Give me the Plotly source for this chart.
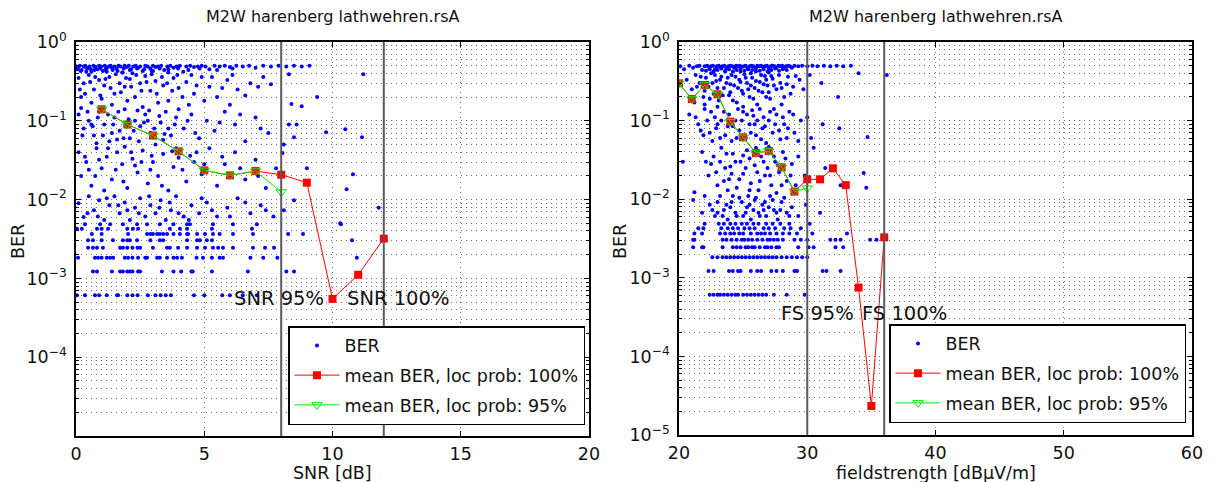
import plotly.graph_objects as go

# ---------------- data: SNR plot ----------------
snr_mean100_x = [1, 2, 3, 4, 5, 6, 7, 8, 9, 10, 11, 12]
snr_mean100 = [0.14, 0.0897, 0.065, 0.041, 0.0235, 0.0203, 0.023, 0.0207, 0.0164, 0.00055, 0.00111, 0.0032]
snr_mean95_x = [1, 2, 3, 4, 5, 6, 7, 8]
snr_mean95 = [0.14, 0.0897, 0.065, 0.041, 0.0235, 0.0203, 0.023, 0.0125]
snr_line95 = 8
snr_line100 = 12

snr_band = [(0.02,0.49),(0.08,0.47),(0.15,0.5),(0.22,0.44),(0.3,0.49),(0.36,0.5),(0.45,0.46),(0.52,0.49),
            (0.6,0.42),(0.68,0.5),(0.75,0.48),(0.83,0.45),(0.9,0.5),(0.98,0.49),(1.05,0.43),(1.12,0.5),
            (1.2,0.47),(1.28,0.49),(1.35,0.5),(1.43,0.44),(1.5,0.49),(1.58,0.46),(1.66,0.5),(1.74,0.49),
            (1.82,0.41),(1.9,0.5),(1.98,0.48),(2.06,0.5),(2.15,0.45),(2.24,0.49),(2.33,0.5),(2.42,0.47),
            (2.5,0.49),(2.6,0.43),(2.7,0.5),(2.8,0.49),(2.9,0.46),(3.0,0.5),(3.1,0.48),(3.2,0.49),
            (3.32,0.5),(3.44,0.44),(3.56,0.49),(3.68,0.5),(3.8,0.47),(3.92,0.49),(4.05,0.5),(4.18,0.42),
            (4.3,0.49),(4.45,0.5),(4.6,0.48),(4.75,0.49),(4.9,0.5),(5.05,0.49),(5.2,0.45),(5.4,0.5),
            (5.6,0.49),(5.8,0.5),(6.0,0.48),(6.25,0.5),(6.5,0.49),(6.75,0.5),(7.0,0.47),(7.3,0.5),
            (7.6,0.49),(7.9,0.5),(8.2,0.49),(8.5,0.5),(8.8,0.49),(9.1,0.5),
            (0.05,0.45),(0.18,0.43),(0.4,0.47),(0.58,0.45),(0.72,0.44),(0.95,0.46),(1.16,0.45),(1.4,0.47),
            (1.62,0.43),(1.86,0.46),(2.1,0.44),(2.38,0.46),(2.66,0.45),(2.95,0.43),(3.26,0.46),(3.6,0.45),
            (3.98,0.46),(4.38,0.44),(4.82,0.46),(5.5,0.44),(6.1,0.46)]

snr_scatter = [(0.1,0.35),(0.3,0.3),(0.5,0.38),(0.7,0.25),(0.9,0.33),(1.1,0.28),(1.3,0.36),(1.5,0.22),
               (1.7,0.3),(1.9,0.27),(2.1,0.34),(2.3,0.2),(2.5,0.3),(2.7,0.37),(2.9,0.24),(3.1,0.32),
               (3.4,0.28),(3.6,0.18),(3.8,0.35),(4.0,0.26),(4.3,0.31),(4.6,0.22),(4.9,0.36),(5.2,0.27),
               (5.5,0.2),(5.9,0.33),(6.3,0.25),(6.8,0.3),(7.3,0.36),(7.6,0.29),(0.2,0.2),(0.6,0.17),
               (1.0,0.19),(1.4,0.16),(2.0,0.18),(2.6,0.15),(3.2,0.17),(4.4,0.16),(5.0,0.18),(6.0,0.16),
               (1.2,0.42),(2.2,0.4),(3.0,0.43),(0.4,0.42),(1.8,0.41),(3.6,0.41),
               (0.1,0.12),(0.3,0.08),(0.5,0.1),(0.7,0.065),(0.9,0.13),(1.1,0.09),(1.3,0.055),(1.5,0.11),
               (1.7,0.075),(1.9,0.14),(2.1,0.06),(2.3,0.1),(2.5,0.085),(2.7,0.12),(2.9,0.07),(3.1,0.05),
               (3.3,0.095),(3.5,0.13),(3.7,0.065),(3.9,0.11),(4.2,0.08),(4.5,0.12),(4.8,0.06),(5.1,0.1),
               (5.4,0.075),(5.8,0.13),(6.2,0.09),(6.6,0.055),(7.0,0.11),(7.5,0.07),(0.2,0.145),(0.8,0.052),
               (1.6,0.058),(2.4,0.135),(3.4,0.057),(4.0,0.14),(0.6,0.09),(1.4,0.07),(2.8,0.1),(3.6,0.08),
               (0.1,0.04),(0.2,0.02),(0.4,0.03),(0.6,0.015),(0.8,0.045),(1.0,0.025),(1.2,0.035),(1.4,0.018),
               (1.6,0.04),(1.8,0.028),(2.0,0.014),(2.2,0.033),(2.4,0.022),(2.6,0.042),(2.8,0.016),(3.0,0.03),
               (3.2,0.02),(3.4,0.038),(3.6,0.013),(3.8,0.026),(4.0,0.034),(4.3,0.017),(4.6,0.03),(4.9,0.021),
               (5.2,0.045),(5.5,0.015),(5.8,0.028),(6.2,0.04),(6.6,0.018),(7.0,0.032),(7.4,0.014),(7.8,0.025),
               (0.5,0.024),(1.1,0.013),(1.9,0.047),(2.9,0.024),(3.9,0.045),(4.7,0.04),(0.9,0.032),(2.3,0.027),
               (0.1,0.009),(0.3,0.006),(0.5,0.011),(0.7,0.0073),(0.9,0.0098),(1.1,0.0055),(1.3,0.0085),(1.5,0.011),
               (1.7,0.0067),(1.9,0.0092),(2.1,0.0055),(2.3,0.0079),(2.5,0.0104),(2.7,0.0061),(2.9,0.0085),(3.1,0.0067),
               (3.3,0.0098),(3.5,0.0055),(3.7,0.0073),(3.9,0.011),(4.2,0.0061),(4.5,0.0085),(4.8,0.0067),(5.1,0.0092),
               (5.5,0.0061),(5.9,0.0079),(6.3,0.0104),(6.8,0.0067),(7.2,0.0085),(7.7,0.0061),
               (8.4,0.163),(8.8,0.153),(8.3,0.09),(8.6,0.09),(8.5,0.062),(8.1,0.05),(9.0,0.025),(8.5,0.0098),
               (8.1,0.0073),(8.05,0.039),(9.75,0.0716),(10.5,0.078),(11.15,0.062),(10.8,0.021),(10.55,0.0135),
               (11.8,0.0079),(10.3,0.005),(11.2,0.39),(8.3,0.39),(9.4,0.2),
               (0.15,0.25),(0.35,0.22),(0.55,0.31),(0.75,0.36),(0.95,0.21),(1.15,0.34),(1.35,0.26),(1.55,0.39),
               (1.75,0.23),(1.95,0.35),(2.15,0.27),(2.35,0.38),(2.55,0.24),(2.75,0.31),(2.95,0.39),(3.15,0.22),
               (3.35,0.36),(3.55,0.3),(3.75,0.24),(3.95,0.38),(4.15,0.2),(4.5,0.38),(4.7,0.28),(5.3,0.36),
               (5.7,0.26),(6.1,0.38),(6.6,0.21),(7.1,0.27),
               (0.25,0.065),(0.45,0.13),(0.65,0.085),(0.85,0.11),(1.05,0.065),(1.25,0.12),(1.45,0.09),(1.65,0.13),
               (1.85,0.06),(2.05,0.105),(2.25,0.075),(2.45,0.055),(2.65,0.095),(2.85,0.135),(3.05,0.08),(3.25,0.115),
               (3.45,0.068),(3.85,0.09),(4.35,0.1),(4.65,0.07),(5.6,0.095),(6.4,0.12),(7.2,0.08),
               (0.35,0.035),(0.75,0.02),(1.25,0.045),(1.55,0.024),(1.85,0.017),(2.15,0.04),(2.55,0.03),(2.95,0.036),
               (3.35,0.015),(3.75,0.041),(4.15,0.024),(4.45,0.036),(5.0,0.028),(5.7,0.035),(6.4,0.025),(7.1,0.02),
               (0.45,0.0067),(0.85,0.0061),(1.2,0.0104),(1.65,0.0085),(2.0,0.0073),(2.45,0.0067),(2.85,0.011),(3.25,0.0079),
               (3.65,0.0092),(4.0,0.0067),(4.4,0.0055),(4.9,0.0104),(5.3,0.0073),(6.0,0.0061),(6.6,0.0092),(7.4,0.0073)]

snr_level_ber = [0.00061, 0.00122, 0.00183, 0.00244, 0.00305, 0.00366, 0.00427, 0.00488]
snr_level_x = [
    [0.04,0.35,0.74,0.9,1.2,1.6,1.64,2.0,2.2,2.4,2.8,3.1,3.3,3.5,3.7,4.6,5.0,5.7,6.0,6.5,7.05],
    [0.66,0.82,1.4,1.72,1.83,2.0,2.1,2.2,2.42,2.5,3.35,3.8,4.1,4.5,4.55,5.3,6.7,8.2,8.5],
    [0.08,0.74,0.86,1.0,1.2,1.33,1.45,1.9,2.03,2.2,2.42,2.7,2.77,3.16,3.27,3.55,3.8,3.94,4.13,4.7,4.95,5.3,5.6,5.73,6.8,7.3,7.85,10.95],
    [0.47,0.66,0.82,1.05,1.72,1.83,2.0,2.2,2.4,2.5,3.0,3.55,3.66,3.98,4.33,4.72,5.03,5.34,5.54,5.73,6.12,6.9,7.37,7.72],
    [0.47,0.66,1.0,1.44,1.83,2.0,2.1,2.38,2.9,3.27,3.4,4.33,4.72,4.83,5.1,5.3,10.76],
    [0.62,1.0,2.03,2.77,2.9,3.0,3.16,3.27,3.4,3.55,3.8,4.05,4.33,4.37,4.72,5.03,5.34,5.6,6.12,6.9,8.27,8.85],
    [0.04,0.23,0.82,1.0,1.25,2.0,2.22,2.42,3.66,4.05,4.33,5.3,6.86],
    [0.35,0.94,1.33,1.83,2.38,2.77,3.27,3.8,4.33,4.44,5.34,6.12,7.05,10.33],
]

# ---------------- data: fieldstrength plot ----------------
fs_mean100_x = [20, 21, 22, 23, 24, 25, 26, 27, 28, 29, 30, 31, 32, 33, 34, 35, 36]
fs_mean100 = [0.298, 0.188, 0.284, 0.216, 0.0968, 0.0613, 0.0387, 0.041, 0.0255, 0.0125,
              0.0179, 0.0179, 0.0247, 0.0151, 0.00075, 0.0000234, 0.00327]
fs_mean95_x = [20, 21, 22, 23, 24, 25, 26, 27, 28, 29, 30]
fs_mean95 = [0.298, 0.188, 0.284, 0.216, 0.0968, 0.0613, 0.0387, 0.041, 0.0255, 0.0125, 0.0138]
fs_line95 = 30
fs_line100 = 36

fs_band = [(20.1,0.49),(20.4,0.45),(20.8,0.5),(21.1,0.47),(21.4,0.49),(21.6,0.5),(21.8,0.44),(22.0,0.49),
           (22.2,0.5),(22.35,0.47),(22.5,0.49),(22.65,0.5),(22.8,0.45),(22.95,0.49),(23.1,0.5),(23.25,0.48),
           (23.4,0.49),(23.55,0.5),(23.7,0.46),(23.85,0.49),(24.0,0.5),(24.15,0.49),(24.3,0.47),(24.45,0.5),
           (24.6,0.49),(24.75,0.5),(24.9,0.48),(25.05,0.49),(25.2,0.5),(25.35,0.46),(25.5,0.49),(25.65,0.5),
           (25.8,0.49),(25.95,0.47),(26.1,0.5),(26.25,0.49),(26.4,0.5),(26.55,0.48),(26.7,0.49),(26.85,0.5),
           (27.0,0.46),(27.15,0.49),(27.3,0.5),(27.45,0.49),(27.6,0.47),(27.75,0.5),(27.9,0.49),(28.05,0.5),
           (28.2,0.48),(28.35,0.49),(28.5,0.5),(28.65,0.49),(28.8,0.47),(29.0,0.5),(29.3,0.49),(29.6,0.5),
           (30.0,0.49),(30.4,0.5),(30.8,0.49),(31.3,0.5),(31.8,0.49),(32.3,0.5),(32.8,0.49),(33.4,0.5),
           (22.1,0.43),(22.4,0.45),(22.7,0.42),(23.0,0.44),(23.3,0.46),(23.6,0.43),(23.9,0.45),(24.2,0.42),
           (24.5,0.44),(24.8,0.46),(25.1,0.43),(25.4,0.45),(25.7,0.44),(26.0,0.46),(26.3,0.43),(26.6,0.45),
           (26.9,0.42),(27.2,0.44),(27.5,0.46),(27.8,0.43),(28.1,0.45),(28.4,0.44)]

fs_scatter = [(20.6,0.33),(21.0,0.25),(21.3,0.38),(21.6,0.3),(21.9,0.2),(22.1,0.35),(22.3,0.27),(22.5,0.4),
              (22.7,0.22),(22.9,0.32),(23.1,0.18),(23.3,0.36),(23.5,0.26),(23.7,0.3),(23.9,0.21),(24.1,0.38),
              (24.3,0.28),(24.5,0.17),(24.7,0.33),(24.9,0.24),(25.1,0.39),(25.3,0.3),(25.5,0.2),(25.7,0.35),
              (25.9,0.26),(26.1,0.16),(26.3,0.31),(26.5,0.23),(26.7,0.37),(26.9,0.28),(27.1,0.19),(27.3,0.34),
              (27.6,0.25),(27.9,0.3),(28.2,0.2),(28.5,0.36),(28.9,0.27),(29.4,0.33),(30.2,0.38),(31.1,0.3),
              (32.4,0.2),(34.0,0.4),(36.2,0.38),(22.0,0.16),(23.0,0.15),(24.0,0.23),(25.0,0.15),(26.0,0.42),
              (27.0,0.41),(28.0,0.16),(21.2,0.17),(23.6,0.42),(24.8,0.42),(22.6,0.3),(25.6,0.28),(26.8,0.2),
              (20.8,0.12),(21.5,0.09),(22.0,0.14),(22.4,0.07),(22.8,0.11),(23.2,0.06),(23.5,0.13),(23.8,0.085),
              (24.1,0.055),(24.4,0.1),(24.7,0.075),(25.0,0.13),(25.2,0.06),(25.5,0.09),(25.8,0.115),(26.0,0.065),
              (26.3,0.14),(26.5,0.08),(26.8,0.052),(27.0,0.1),(27.3,0.07),(27.6,0.12),(27.9,0.058),(28.2,0.09),
              (28.6,0.13),(29.0,0.07),(29.5,0.1),(30.3,0.06),(31.2,0.09),(32.5,0.08),(34.7,0.062),(24.6,0.14),
              (25.9,0.09),(23.0,0.09),(26.6,0.11),(22.6,0.055),(28.4,0.06),(27.4,0.14),(21.9,0.065),
              (20.3,0.03),(21.2,0.0123),(21.8,0.04),(22.3,0.02),(22.7,0.035),(23.0,0.015),(23.3,0.045),(23.6,0.025),
              (23.9,0.018),(24.2,0.038),(24.5,0.014),(24.8,0.03),(25.0,0.021),(25.3,0.042),(25.6,0.016),(25.9,0.027),
              (26.2,0.013),(26.4,0.035),(26.7,0.02),(27.0,0.046),(27.2,0.015),(27.5,0.03),(27.8,0.022),(28.1,0.04),
              (28.4,0.017),(28.8,0.028),(29.3,0.035),(29.8,0.02),(30.5,0.045),(31.4,0.025),(32.6,0.015),(34.4,0.0216),
              (34.6,0.014),(24.0,0.026),(25.5,0.033),(26.9,0.025),(22.5,0.028),(23.8,0.013),(26.0,0.045),(27.6,0.012),
              (21.1,0.0098),(21.8,0.0067),(22.4,0.0085),(22.8,0.0061),(23.2,0.011),(23.5,0.0073),(23.8,0.0055),(24.1,0.0092),
              (24.4,0.0067),(24.7,0.0104),(25.0,0.0061),(25.3,0.0079),(25.6,0.0055),(25.9,0.0098),(26.2,0.0067),(26.5,0.0085),
              (26.8,0.0061),(27.1,0.011),(27.4,0.0073),(27.7,0.0055),(28.0,0.0092),(28.4,0.0067),(28.8,0.0079),(29.3,0.0061),
              (29.9,0.0085),(31.0,0.0067),(24.0,0.0079),(25.4,0.011),(26.6,0.0073),(23.0,0.0067),
              (21.4,0.27),(21.7,0.36),(22.0,0.24),(22.2,0.3),(22.4,0.19),(22.8,0.38),(23.0,0.26),(23.2,0.33),
              (23.4,0.21),(23.8,0.35),(24.0,0.29),(24.2,0.18),(24.4,0.36),(24.6,0.26),(24.8,0.31),(25.0,0.22),
              (25.2,0.35),(25.4,0.25),(25.6,0.4),(25.8,0.19),(26.0,0.32),(26.2,0.24),(26.4,0.38),(26.6,0.29),
              (26.8,0.33),(27.0,0.23),(27.2,0.37),(27.4,0.28),(27.8,0.38),(28.0,0.26),(28.4,0.29),(28.7,0.22),
              (29.1,0.37),(29.7,0.25),
              (21.3,0.11),(21.7,0.075),(22.2,0.1),(22.5,0.13),(22.9,0.08),(23.3,0.1),(23.6,0.065),(23.9,0.12),
              (24.2,0.085),(24.5,0.06),(24.9,0.1),(25.3,0.12),(25.6,0.07),(25.7,0.135),(26.1,0.1),(26.4,0.058),
              (26.7,0.085),(27.1,0.13),(27.5,0.09),(27.8,0.075),(28.1,0.11),(28.5,0.08),(28.9,0.12),(29.3,0.055),
              (30.0,0.11),
              (22.1,0.03),(22.9,0.022),(23.2,0.03),(23.5,0.017),(23.7,0.038),(24.1,0.021),(24.4,0.03),(24.7,0.018),
              (25.0,0.036),(25.2,0.025),(25.5,0.013),(25.8,0.04),(26.1,0.022),(26.3,0.017),(26.6,0.03),(26.9,0.04),
              (27.1,0.02),(27.4,0.035),(27.7,0.027),(28.0,0.015),(28.3,0.033),(28.7,0.02),(29.1,0.015),
              (22.0,0.011),(22.6,0.0073),(23.0,0.0092),(23.4,0.0061),(23.7,0.0085),(24.2,0.011),(24.5,0.0061),(24.9,0.0092),
              (25.2,0.0067),(25.5,0.0085),(25.8,0.0073),(26.0,0.0104),(26.3,0.0061),(26.7,0.0092),(27.0,0.0079),(27.3,0.0098),
              (27.6,0.0067),(27.9,0.0073),(28.2,0.0104),(28.6,0.0061)]

fs_level_ber = [0.00061, 0.00122, 0.00183, 0.00244, 0.00305, 0.00366, 0.00427, 0.00488]
fs_level_x = [
    [22.4,22.7,23.0,23.2,23.5,23.8,24.1,24.4,24.6,25.0,25.3,25.6,25.9,26.2,26.5,26.8,27.4,28.4,29.8],
    [22.3,22.7,23.9,24.2,24.6,24.8,25.6,26.1,26.4,27.2,27.6,28.1,29.0,29.2,31.2,31.5,32.6],
    [22.6,23.0,23.4,23.7,24.0,24.3,24.6,24.9,25.2,25.5,25.8,26.1,26.4,26.7,27.0,27.3,27.6,28.0,28.4,28.8,29.2,29.6,30.0],
    [21.1,21.8,21.9,23.4,24.2,24.5,24.8,25.2,25.4,25.7,25.9,26.3,26.7,26.9,27.2,27.6,27.8,29.3,30.1,30.5,32.2,32.8],
    [21.1,21.2,23.4,23.7,24.1,24.5,24.9,25.1,25.4,25.7,26.1,26.5,26.9,27.1,27.4,27.7,28.1,29.0,29.5,30.0,31.8,32.2,32.6,34.9,35.4],
    [21.2,21.8,23.2,23.6,24.0,24.3,24.7,25.0,25.6,26.1,26.4,26.7,27.1,27.6,28.1,28.6,29.2,30.4,33.1],
    [21.5,21.9,23.3,23.8,24.2,24.6,25.1,25.5,25.9,26.6,27.0,27.5,28.2,28.7,29.5],
    [22.0,23.1,23.5,24.0,24.4,24.9,25.3,25.8,26.2,26.8,27.3,27.9,28.6,30.2],
]

title_text = "M2W harenberg lathwehren.rsA"
snr_xlabel = "SNR [dB]"
fs_xlabel = "fieldstrength [dB\u00b5V/m]"
ylabel = "BER"


def collect(band, scatter, level_ber, level_x):
    xs, ys = [], []
    for x, y in band + scatter:
        xs.append(x)
        ys.append(y)
    for b, row in zip(level_ber, level_x):
        for x in row:
            xs.append(x)
            ys.append(b)
    return xs, ys


snr_x, snr_y = collect(snr_band, snr_scatter, snr_level_ber, snr_level_x)
fs_x, fs_y = collect(fs_band, fs_scatter, fs_level_ber, fs_level_x)

FONT = "DejaVu Sans"
BLUE = "#0000ff"
RED = "#ff0000"
GREEN = "#00ee00"
W, H = 1214, 482

fig = go.Figure()


def add_panel(xs, ys, mx100, my100, mx95, my95, xa, ya, leg):
    fig.add_trace(go.Scatter(x=xs, y=ys, mode="markers", name="BER",
                             marker=dict(color=BLUE, size=4, line=dict(width=0)),
                             xaxis=xa, yaxis=ya, legend=leg, legendgroup=leg + "a"))
    fig.add_trace(go.Scatter(x=mx100, y=my100, mode="lines+markers",
                             name="mean BER, loc prob: 100%",
                             line=dict(color=RED, width=1),
                             marker=dict(symbol="square", size=8, color=RED, line=dict(width=0)),
                             xaxis=xa, yaxis=ya, legend=leg, legendgroup=leg + "b"))
    fig.add_trace(go.Scatter(x=mx95, y=my95, mode="lines+markers",
                             name="mean BER, loc prob: 95%",
                             line=dict(color=GREEN, width=1),
                             marker=dict(symbol="triangle-down-open", size=9, color=GREEN,
                                         line=dict(width=1, color=GREEN)),
                             xaxis=xa, yaxis=ya, legend=leg, legendgroup=leg + "c"))


add_panel(snr_x, snr_y, snr_mean100_x, snr_mean100, snr_mean95_x, snr_mean95, "x", "y", "legend")
add_panel(fs_x, fs_y, fs_mean100_x, fs_mean100, fs_mean95_x, fs_mean95, "x2", "y2", "legend2")

GRID = "rgba(0,0,0,0.55)"
DASH = "1px,4px"
minor_vals = [k * 10.0 ** e for e in range(-5, 0) for k in range(2, 10)]


def xaxis_cfg(dom, rng, dtick, anchor):
    return dict(domain=dom, range=rng, dtick=dtick, tick0=rng[0], anchor=anchor,
                showline=True, linecolor="black", linewidth=1.5, mirror="ticks",
                ticks="inside", ticklen=5, tickwidth=1, tickcolor="black",
                showgrid=True, gridcolor=GRID, griddash=DASH, gridwidth=1,
                zeroline=False, automargin=False,
                tickfont=dict(family=FONT, size=17.5, color="#111"),
                ticklabelstandoff=1)


def yaxis_cfg(dom, tickvals, ticktext, anchor):
    return dict(domain=dom, type="log", range=[-5, 0], anchor=anchor,
                tickmode="array", tickvals=tickvals, ticktext=ticktext,
                showline=True, linecolor="black", linewidth=1.5, mirror="ticks",
                ticks="inside", ticklen=5, tickwidth=1, tickcolor="black",
                showgrid=True, gridcolor=GRID, griddash=DASH, gridwidth=1,
                minor=dict(tickmode="array", tickvals=minor_vals, ticks="inside", ticklen=3,
                           tickcolor="black", showgrid=True, gridcolor=GRID, griddash=DASH, gridwidth=1),
                zeroline=False, automargin=False,
                tickfont=dict(family=FONT, size=17.5, color="#111"),
                ticklabelstandoff=4)


ydom_l = [1 - 436 / H, 1 - 42 / H]
ydom_r = [1 - 435 / H, 1 - 42 / H]
exp_txt = {0: "0", -1: "\u22121", -2: "\u22122", -3: "\u22123", -4: "\u22124", -5: "\u22125"}
left_tv = [1e-4, 1e-3, 1e-2, 1e-1, 1]
left_tt = ["10<sup>%s</sup>" % exp_txt[e] for e in [-4, -3, -2, -1, 0]]
right_tv = [1e-5, 1e-4, 1e-3, 1e-2, 1e-1, 1]
right_tt = ["10<sup>%s</sup>" % exp_txt[e] for e in [-5, -4, -3, -2, -1, 0]]

legend_common = dict(bgcolor="white", bordercolor="black", borderwidth=1.5,
                     font=dict(family=FONT, size=17.5, color="#111"), itemwidth=45,
                     tracegroupgap=4)

fig.update_layout(
    width=W, height=H, margin=dict(l=0, r=0, t=0, b=0, pad=0),
    paper_bgcolor="white", plot_bgcolor="white",
    font=dict(family=FONT, size=17.5, color="#111"),
    xaxis=xaxis_cfg([76 / W, 589 / W], [0, 20], 5, "y"),
    yaxis=yaxis_cfg(ydom_l, left_tv, left_tt, "x"),
    xaxis2=xaxis_cfg([679 / W, 1192 / W], [20, 60], 10, "y2"),
    yaxis2=yaxis_cfg(ydom_r, right_tv, right_tt, "x2"),
    legend=dict(x=585 / W, xanchor="right", y=1 - 425 / H, yanchor="bottom", **legend_common),
    legend2=dict(x=1186 / W, xanchor="right", y=1 - 423 / H, yanchor="bottom", **legend_common),
    showlegend=True,
)

for xr, yr, xv in [("x", "y", snr_line95), ("x", "y", snr_line100),
                   ("x2", "y2", fs_line95), ("x2", "y2", fs_line100)]:
    fig.add_shape(type="line", xref=xr, yref=yr + " domain", x0=xv, x1=xv, y0=0, y1=1,
                  line=dict(color="#5a5a5a", width=2), layer="above")

ann_font = dict(family=FONT, size=19.5, color="#111")
fig.add_annotation(text="SNR 95%", xref="x", yref="y", x=6.1, y=-3.257, xanchor="left",
                   yanchor="middle", showarrow=False, font=ann_font)
fig.add_annotation(text="SNR 100%", xref="x", yref="y", x=10.5, y=-3.257, xanchor="left",
                   yanchor="middle", showarrow=False, font=ann_font)
fig.add_annotation(text="FS 95%", xref="x2", yref="y2", x=27.8, y=-3.448, xanchor="left",
                   yanchor="middle", showarrow=False, font=ann_font)
fig.add_annotation(text="FS 100%", xref="x2", yref="y2", x=34.1, y=-3.448, xanchor="left",
                   yanchor="middle", showarrow=False, font=ann_font)

lab_font = dict(family=FONT, size=17.5, color="#111")
for xr, yr, xlab, ylab_x in [("x", "y", snr_xlabel, 18), ("x2", "y2", fs_xlabel, 620)]:
    fig.add_annotation(text=title_text, xref=xr + " domain", yref=yr + " domain", x=0.5, y=1,
                       xanchor="center", yanchor="bottom", yshift=14, showarrow=False,
                       font=dict(family=FONT, size=16, color="#111"))
    fig.add_annotation(text=xlab, xref=xr + " domain", yref="paper", x=0.5, y=1 - 473 / H,
                       xanchor="center", yanchor="middle", showarrow=False, font=lab_font)
    fig.add_annotation(text=ylabel, xref="paper", yref="paper", x=ylab_x / W, y=1 - 242 / H,
                       xanchor="center", yanchor="middle", textangle=-90, showarrow=False,
                       font=lab_font)

fig.write_html("out.html")
